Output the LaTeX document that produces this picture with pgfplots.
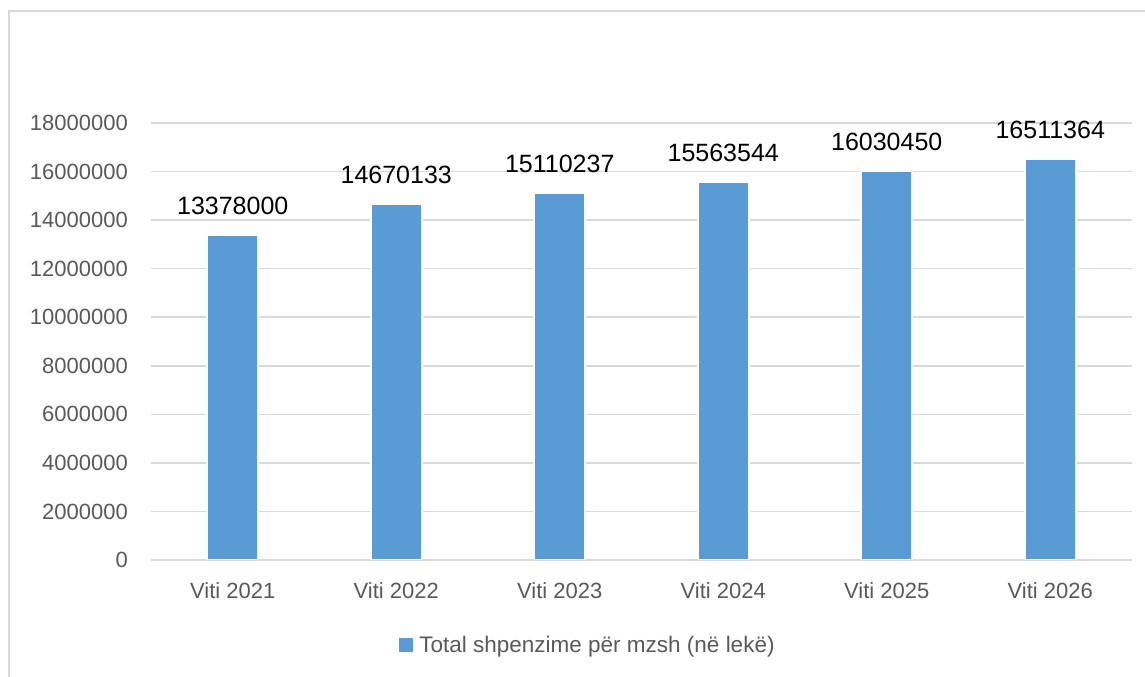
\documentclass[border=0pt]{standalone}
\usepackage{pgfplots}
\pgfplotsset{compat=1.18}
\usepackage{pgfplotstable}
\usepackage{fontspec}
\setmainfont{Liberation Sans}

\definecolor{barblue}{HTML}{5B9BD5}
\definecolor{gridgray}{HTML}{D9D9D9}
\definecolor{txtgray}{HTML}{595959}
\definecolor{framegray}{HTML}{D9D9D9}

% x, shpenzime, label
\pgfplotstableread{
x y lab
0 13378000 13378000
1 14670133 14670133
2 15110237 15110237
3 15563544 15563544
4 16030450 16030450
5 16511364 16511364
}\spendings

\begin{document}
\begin{tikzpicture}
\useasboundingbox (0,0) rectangle (1145bp,677bp);
\draw[framegray, line width=1.5bp] (9bp,0) -- (9bp,666bp) -- (1145bp,666bp);
\begin{axis}[
    at={(151bp,117bp)}, anchor=south west,
    scale only axis, width=981bp, height=437bp,
    ybar, bar width=51bp,
    xmin=-0.5, xmax=5.5,
    ymin=0, ymax=18000000,
    xtick=data,
    xticklabels={Viti 2021,Viti 2022,Viti 2023,Viti 2024,Viti 2025,Viti 2026},
    ytick={0,2000000,...,18000000},
    scaled y ticks=false,
    /pgf/number format/assume math mode=true,
    yticklabel style={/pgf/number format/fixed, /pgf/number format/1000 sep={},
        inner sep=0pt, anchor=east, xshift=-23bp},
    xticklabel style={inner sep=0pt, anchor=north, yshift=-22bp},
    ticklabel style={font=\fontsize{22bp}{26bp}\selectfont, text=txtgray},
    major tick length=0pt,
    axis line style={draw=none},
    ymajorgrids, major grid style={gridgray, line width=1.5bp},
    nodes near coords,
    point meta=explicit symbolic,
    nodes near coords style={font=\fontsize{25bp}{29bp}\selectfont, text=black,
        inner sep=0pt, anchor=south, yshift=19bp},
    legend style={at={(0.4475,-0.1945)}, anchor=center, draw=none, fill=none,
        font=\fontsize{22.5bp}{26bp}\selectfont, text=txtgray,
        /tikz/every even column/.append style={column sep=0pt},
        nodes={inner xsep=6bp}},
    legend cell align=left,
    legend image code/.code={\fill[barblue] (0bp,-6bp) rectangle (12bp,6bp);},
]
\addplot[fill=barblue, draw=white, line width=2bp] table[x=x, y=y, meta=lab] {\spendings};
\addlegendentry{Total shpenzime për mzsh (në lekë)}
\end{axis}
\end{tikzpicture}
\end{document}
